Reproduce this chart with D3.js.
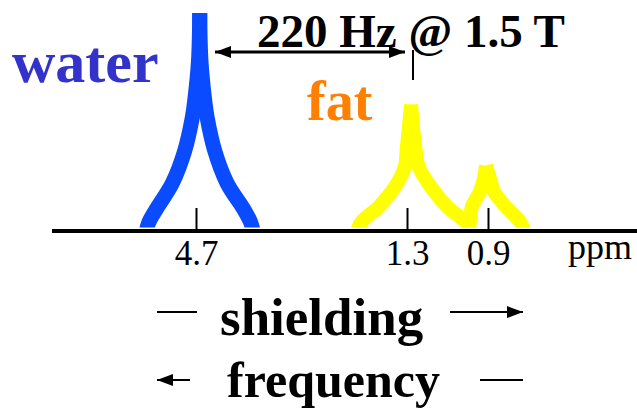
<!DOCTYPE html>
<html>
<head>
<meta charset="utf-8">
<script src="https://cdn.jsdelivr.net/npm/d3@7"></script>
<style>
  body { margin: 0; background: #fff; }
  svg { display: block; font-family: "Liberation Serif", "Times New Roman", serif; }
</style>
</head>
<body>
<svg id="chart"></svg>
<script>
// svg size
const width = 637;
const height = 417;

// axis ticks (ppm)
const tickValues = [4.7, 1.3, 0.9];
const tickLabels = ["4.7", "1.3", "0.9"];

// peak outlines: [ppm, relative intensity], apex first
const waterLeft  = [[4.64, 1.00], [4.66, 0.78], [4.72, 0.60], [4.76, 0.52], [4.88, 0.37], [5.08, 0.22], [5.34, 0.10], [5.46, 0.04], [5.50, 0.00]];
const waterRight = [[4.64, 1.00], [4.62, 0.78], [4.56, 0.60], [4.52, 0.52], [4.40, 0.37], [4.20, 0.22], [3.93, 0.10], [3.82, 0.04], [3.78, 0.00]];
const fat13Left  = [[1.28, 0.58], [1.30, 0.39], [1.34, 0.29], [1.50, 0.20], [1.76, 0.11], [2.04, 0.04], [2.10, 0.00]];
const fat13Right = [[1.28, 0.58], [1.26, 0.39], [1.24, 0.29], [1.18, 0.20], [1.10, 0.11], [1.01, 0.04], [0.99, 0.00]];
const fat09Left  = [[0.91, 0.30], [0.92, 0.24], [0.94, 0.18], [0.98, 0.11], [0.99, 0.04], [0.995, 0.00]];
const fat09Right = [[0.91, 0.30], [0.89, 0.24], [0.87, 0.18], [0.81, 0.11], [0.74, 0.04], [0.72, 0.00]];

const peaks = [
    { pts: waterLeft,  color: "#0a4bff", w: 15 },
    { pts: waterRight, color: "#0a4bff", w: 15 },
    { pts: fat13Left,  color: "#ffff00", w: 14 },
    { pts: fat13Right, color: "#ffff00", w: 14 },
    { pts: fat09Left,  color: "#ffff00", w: 14 },
    { pts: fat09Right, color: "#ffff00", w: 14 }
];

const svg = d3.select("#chart")
    .attr("width", width)
    .attr("height", height);

// schematic ppm axis, not to scale between peaks
const x = d3.scaleLinear()
    .domain(tickValues)
    .range([196, 407, 488]);

const y = d3.scaleLinear()
    .domain([0, 1])
    .range([231, 13]);

const defs = svg.append("defs");

// feet of the peaks are cut flat just above the baseline
defs.append("clipPath")
    .attr("id", "clip")
    .append("rect")
    .attr("x", 0).attr("y", 0)
    .attr("width", width).attr("height", y(0) - 3.5);

// arrow head
defs.append("marker")
    .attr("id", "head")
    .attr("viewBox", "0 -5 10 10")
    .attr("refX", 10)
    .attr("refY", 0)
    .attr("markerUnits", "userSpaceOnUse")
    .attr("markerWidth", 16)
    .attr("markerHeight", 12)
    .attr("preserveAspectRatio", "none")
    .attr("orient", "auto-start-reverse")
    .append("path")
    .attr("d", "M0,-5L10,0L0,5Z")
    .attr("fill", "#000");

// peaks
const line = d3.line()
    .x(d => x(d[0]))
    .y(d => y(d[1]))
    .curve(d3.curveCatmullRom.alpha(0.5));

svg.append("g")
    .attr("clip-path", "url(#clip)")
    .selectAll("path.peak")
    .data(peaks)
    .enter()
    .append("path")
    .attr("class", "peak")
    .attr("d", d => line(d.pts))
    .attr("fill", "none")
    .attr("stroke", d => d.color)
    .attr("stroke-width", d => d.w)
    .attr("stroke-linecap", "butt");

// baseline
svg.append("line")
    .attr("x1", 52).attr("x2", width)
    .attr("y1", y(0)).attr("y2", y(0))
    .attr("stroke", "#000")
    .attr("stroke-width", 4);

// ticks pointing up, labels below
const axis = d3.axisBottom(x)
    .tickValues(tickValues)
    .tickFormat((d, i) => tickLabels[i])
    .tickSizeInner(-23)
    .tickSizeOuter(0)
    .tickPadding(9);

const gx = svg.append("g")
    .attr("transform", `translate(0,${y(0)})`)
    .call(axis);
gx.select(".domain").remove();
gx.selectAll(".tick line").attr("stroke", "#000").attr("stroke-width", 2);
gx.selectAll(".tick text")
    .attr("font-family", "Liberation Serif, serif")
    .attr("font-size", 35)
    .attr("fill", "#000");

svg.append("text")
    .attr("x", 568).attr("y", 259)
    .attr("font-size", 36)
    .text("ppm");

// labels
svg.append("text")
    .attr("x", 12).attr("y", 82)
    .attr("font-size", 60)
    .attr("font-weight", "bold")
    .attr("fill", "#3333cc")
    .text("water");

svg.append("text")
    .attr("x", 307).attr("y", 120)
    .attr("font-size", 56)
    .attr("font-weight", "bold")
    .attr("fill", "#ff7f00")
    .text("fat");

// 220 Hz separation
svg.append("text")
    .attr("x", 257).attr("y", 47)
    .attr("font-size", 47)
    .attr("font-weight", "bold")
    .text("220 Hz @ 1.5 T");

svg.append("line")
    .attr("x1", x(4.7) + 19).attr("x2", x(1.3) - 2)
    .attr("y1", 52).attr("y2", 52)
    .attr("stroke", "#000")
    .attr("stroke-width", 3)
    .attr("marker-start", "url(#head)")
    .attr("marker-end", "url(#head)");

svg.append("line")
    .attr("x1", x(1.3) + 6).attr("x2", x(1.3) + 6)
    .attr("y1", 50).attr("y2", 80)
    .attr("stroke", "#000")
    .attr("stroke-width", 2);

// shielding / frequency directions
svg.append("text")
    .attr("x", 220).attr("y", 335)
    .attr("font-size", 53)
    .attr("font-weight", "bold")
    .text("shielding");

svg.append("line")
    .attr("x1", 157).attr("x2", 197).attr("y1", 312).attr("y2", 312)
    .attr("stroke", "#000").attr("stroke-width", 2);

svg.append("line")
    .attr("x1", 450).attr("x2", 523).attr("y1", 312).attr("y2", 312)
    .attr("stroke", "#000").attr("stroke-width", 2)
    .attr("marker-end", "url(#head)");

svg.append("text")
    .attr("x", 227).attr("y", 397)
    .attr("font-size", 50)
    .attr("font-weight", "bold")
    .text("frequency");

svg.append("line")
    .attr("x1", 157).attr("x2", 190).attr("y1", 380).attr("y2", 380)
    .attr("stroke", "#000").attr("stroke-width", 2)
    .attr("marker-start", "url(#head)");

svg.append("line")
    .attr("x1", 480).attr("x2", 523).attr("y1", 380).attr("y2", 380)
    .attr("stroke", "#000").attr("stroke-width", 2);
</script>
</body>
</html>
